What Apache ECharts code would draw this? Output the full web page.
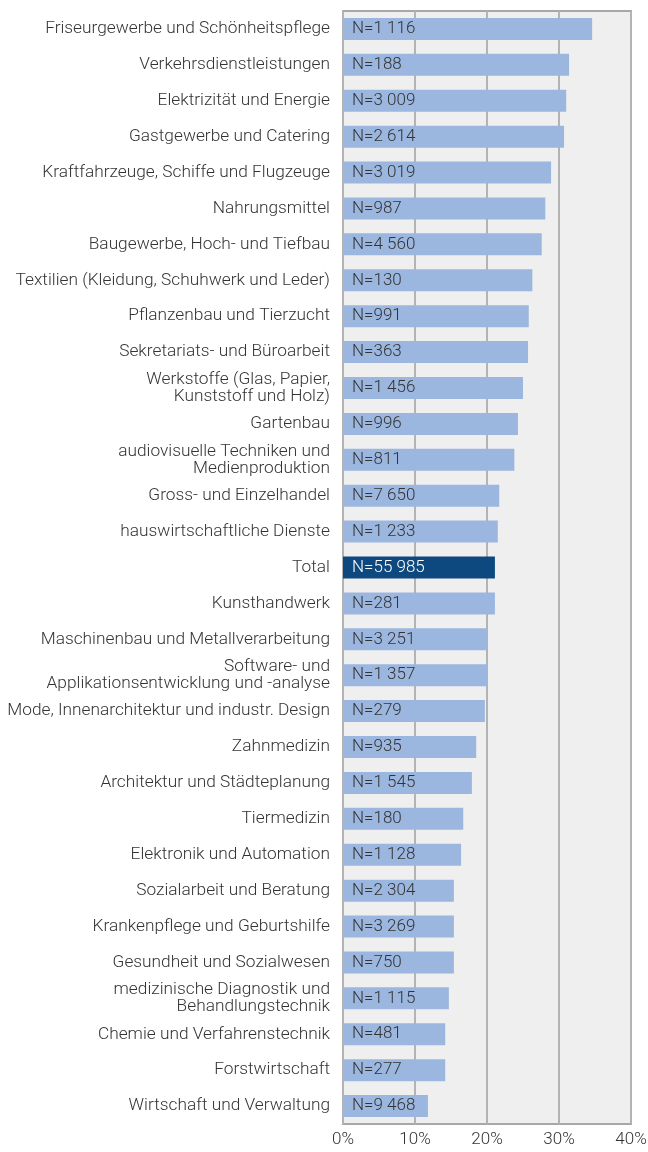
<!DOCTYPE html>
<html>
<head>
<meta charset="utf-8">
<script src="https://cdn.jsdelivr.net/npm/echarts@6/dist/echarts.min.js"></script>
<style>
  html, body { margin: 0; padding: 0; background: #fff; }
  #chart { width: 648px; height: 1152px; }
</style>
</head>
<body>
<div id="chart"></div>
<script>
/* categories, top to bottom */
var categories = [
  "Friseurgewerbe und Schönheitspflege",
  "Verkehrsdienstleistungen",
  "Elektrizität und Energie",
  "Gastgewerbe und Catering",
  "Kraftfahrzeuge, Schiffe und Flugzeuge",
  "Nahrungsmittel",
  "Baugewerbe, Hoch- und Tiefbau",
  "Textilien (Kleidung, Schuhwerk und Leder)",
  "Pflanzenbau und Tierzucht",
  "Sekretariats- und Büroarbeit",
  "Werkstoffe (Glas, Papier,\nKunststoff und Holz)",
  "Gartenbau",
  "audiovisuelle Techniken und\nMedienproduktion",
  "Gross- und Einzelhandel",
  "hauswirtschaftliche Dienste",
  "Total",
  "Kunsthandwerk",
  "Maschinenbau und Metallverarbeitung",
  "Software- und\nApplikationsentwicklung und -analyse",
  "Mode, Innenarchitektur und industr. Design",
  "Zahnmedizin",
  "Architektur und Städteplanung",
  "Tiermedizin",
  "Elektronik und Automation",
  "Sozialarbeit und Beratung",
  "Krankenpflege und Geburtshilfe",
  "Gesundheit und Sozialwesen",
  "medizinische Diagnostik und\nBehandlungstechnik",
  "Chemie und Verfahrenstechnik",
  "Forstwirtschaft",
  "Wirtschaft und Verwaltung"
];

/* share in percent */
var values = [
  34.6, 31.4, 31.0, 30.7, 28.9, 28.1, 27.6, 26.3, 25.8, 25.7,
  25.0, 24.3, 23.8, 21.7, 21.5, 21.1, 21.1, 20.1, 20.0, 19.7,
  18.5, 17.9, 16.7, 16.4, 15.4, 15.4, 15.4, 14.7, 14.2, 14.2,
  11.8
];

/* sample sizes */
var counts = [
  "1 116", "188", "3 009", "2 614", "3 019", "987", "4 560", "130", "991", "363",
  "1 456", "996", "811", "7 650", "1 233", "55 985", "281", "3 251", "1 357", "279",
  "935", "1 545", "180", "1 128", "2 304", "3 269", "750", "1 115", "481", "277",
  "9 468"
];

var xTicks = [0, 10, 20, 30, 40];

var dom = document.getElementById("chart");
var myChart = echarts.init(dom, null, { renderer: "canvas" });

var barData = values.map(function (v, i) {
  var isTotal = categories[i] === "Total";
  return {
    value: v,
    itemStyle: { color: isTotal ? "#0d497e" : "#9bb6df" },
    label: { color: isTotal ? "#ffffff" : "#333333" }
  };
});

var option = {
  animation: false,
  textStyle: { fontFamily: "Roboto" },
  grid: {
    left: 343,
    right: 17,
    top: 11,
    bottom: 28,
    containLabel: false,
    outerBoundsMode: "none",
    show: true,
    backgroundColor: "#efefef",
    borderColor: "#a8a8a8",
    borderWidth: 2
  },
  xAxis: {
    type: "value",
    min: xTicks[0],
    max: xTicks[xTicks.length - 1],
    interval: 10,
    axisLine: { show: false },
    axisTick: { show: false },
    splitLine: { show: true, lineStyle: { color: "#b3b3b3", width: 2 } },
    axisLabel: {
      formatter: "{value}%",
      color: "#333",
      fontSize: 17,
      fontWeight: 300,
      margin: 7
    }
  },
  yAxis: {
    type: "category",
    data: categories,
    inverse: true,
    axisLine: { show: false },
    axisTick: { show: false },
    axisLabel: {
      color: "#333",
      fontSize: 17.3,
      fontWeight: 300,
      lineHeight: 17,
      margin: 13,
      align: "right"
    }
  },
  series: [
    {
      type: "bar",
      data: barData,
      barWidth: 22,
      label: {
        show: true,
        position: "insideLeft",
        distance: 9,
        fontSize: 17,
        fontWeight: 300,
        formatter: function (p) {
          return "N=" + counts[p.dataIndex];
        }
      }
    }
  ]
};

myChart.setOption(option);
window.addEventListener("resize", myChart.resize);
</script>
</body>
</html>
